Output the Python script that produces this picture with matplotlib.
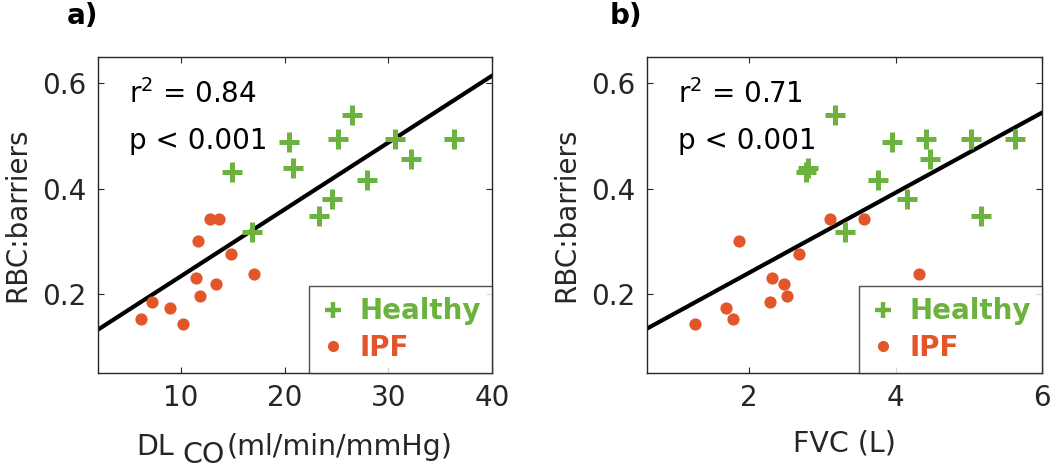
import numpy as np
import matplotlib
matplotlib.use('Agg')
import matplotlib.pyplot as plt

# --------------------------------------------------
# Data
# --------------------------------------------------

healthy_dlco = [14.9, 20.4, 20.8, 16.9, 25.1, 26.5, 23.3, 24.6, 27.9, 30.6, 32.2, 36.3]
healthy_fvc = [2.78, 3.95, 2.80, 3.31, 4.41, 3.17, 5.16, 4.15, 3.76, 5.02, 4.47, 5.63]
healthy_rbc = [0.431, 0.489, 0.440, 0.317, 0.494, 0.539, 0.349, 0.380, 0.417, 0.494, 0.456, 0.494]

ipf_dlco = [6.2, 7.2, 9.0, 10.2, 11.7, 11.5, 11.9, 12.8, 13.7, 13.4, 14.8, 17.1]
ipf_fvc = [1.78, 2.28, 1.68, 1.26, 1.86, 2.31, 2.52, 3.10, 3.56, 2.47, 2.68, 4.32]
ipf_rbc = [0.152, 0.185, 0.173, 0.143, 0.300, 0.230, 0.196, 0.342, 0.342, 0.220, 0.277, 0.239]

# regression lines as reported in the figure (slope, intercept)
fit_a = (0.01268, 0.107)
fit_b = (0.0759, 0.0889)

stats_a = ('0.84', '0.001')
stats_b = ('0.71', '0.001')

GREEN = '#6CB23E'
ORANGE = '#E2562A'
AX_COLOR = '#262626'

plt.rcParams['font.family'] = 'DejaVu Sans'

fig = plt.figure(figsize=(10.5, 4.71), dpi=100)
ax_a = fig.add_axes([0.093, 0.2074, 0.3758, 0.6722])
ax_b = fig.add_axes([0.6159, 0.2074, 0.3768, 0.6722])


def draw_panel(ax, x_h, x_i, fit, xlim, xticks, stats):
    xs = np.array(xlim, dtype=float)
    ax.plot(xs, fit[0] * xs + fit[1], color='black', lw=3.0, zorder=2)
    ax.plot(x_h, healthy_rbc, ls='none', marker='+', ms=14.5, mew=3.6,
            color=GREEN, label='Healthy', zorder=3)
    ax.plot(x_i, ipf_rbc, ls='none', marker='o', ms=8.8, mew=0,
            color=ORANGE, label='IPF', zorder=3)
    ax.set_xlim(xlim)
    ax.set_ylim(0.05, 0.65)
    ax.set_xticks(xticks)
    ax.set_yticks([0.2, 0.4, 0.6])
    ax.tick_params(direction='in', top=True, right=True, length=4, width=0.8,
                   colors=AX_COLOR, labelsize=20, pad=8)
    for s in ax.spines.values():
        s.set_color(AX_COLOR)
        s.set_linewidth(1.0)
    ax.set_ylabel('RBC:barriers', fontsize=20, color=AX_COLOR, labelpad=8)
    ax.text(0.08, 0.855, r'r$^2$ = ' + stats[0], transform=ax.transAxes,
            fontsize=20, color='black')
    ax.text(0.08, 0.71, 'p < ' + stats[1], transform=ax.transAxes,
            fontsize=20, color='black')
    leg = ax.legend(loc='lower right', frameon=True, fancybox=False,
                    borderaxespad=0, handlelength=0.9, handletextpad=0.5,
                    borderpad=0.42, labelspacing=0.3,
                    prop={'weight': 'bold', 'size': 20})
    leg.get_frame().set_edgecolor(AX_COLOR)
    leg.get_frame().set_linewidth(1.0)
    for txt, c in zip(leg.get_texts(), [GREEN, ORANGE]):
        txt.set_color(c)
    hs = leg.legend_handles
    hs[0].set_markersize(12)
    hs[0].set_markeredgewidth(3.2)
    hs[1].set_markersize(8)


draw_panel(ax_a, healthy_dlco, ipf_dlco, fit_a, (2, 40), [10, 20, 30, 40], stats_a)
draw_panel(ax_b, healthy_fvc, ipf_fvc, fit_b, (0.6, 6), [2, 4, 6], stats_b)

# x labels (DL with a lowered CO subscript)
ax_a.text(0.097, -0.258, 'DL', transform=ax_a.transAxes, fontsize=20.5, color=AX_COLOR)
ax_a.text(0.215, -0.302, 'CO', transform=ax_a.transAxes, fontsize=20.5, color=AX_COLOR,
          va='bottom')
ax_a.text(0.326, -0.258, '(ml/min/mmHg)', transform=ax_a.transAxes, fontsize=20.5,
          color=AX_COLOR)
ax_b.set_xlabel('FVC (L)', fontsize=20.5, color=AX_COLOR, labelpad=12)

# panel tags
fig.text(0.064, 0.965, 'a)', fontsize=20, fontweight='bold', va='center')
fig.text(0.581, 0.965, 'b)', fontsize=20, fontweight='bold', va='center')

fig.savefig('out.png', dpi=100, facecolor='white')
